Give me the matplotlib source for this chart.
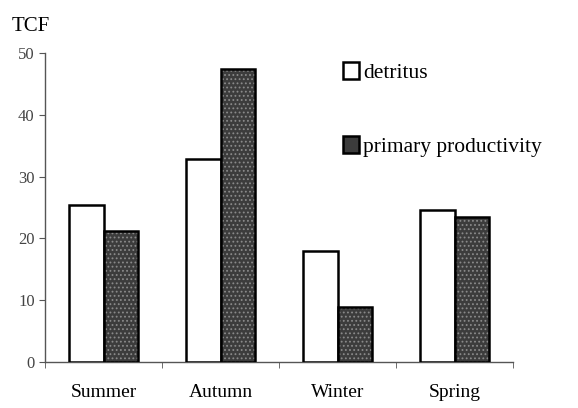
import numpy as np
import matplotlib.pyplot as plt
from matplotlib.patches import Rectangle

seasons = ['Summer', 'Autumn', 'Winter', 'Spring']
detritus = [25.4, 32.8, 18.0, 24.6]
primary = [21.2, 47.4, 8.9, 23.5]

plt.rcParams['font.family'] = 'Liberation Serif'
plt.rcParams['hatch.linewidth'] = 0.8

fig = plt.figure(figsize=(5.78, 4.08), dpi=100)
ax = fig.add_axes([0.078, 0.113, 0.81, 0.757])

x = np.arange(len(seasons))
w = 0.295

ax.bar(x - w / 2, detritus, w, color='white', edgecolor='black', linewidth=1.8, zorder=3)
# dotted fill for the dark bars, then an outline on top
ax.bar(x + w / 2, primary, w, color='#3c3c3c', edgecolor='#8a8a8a', hatch='....', linewidth=0, zorder=3)
ax.bar(x + w / 2, primary, w, color='none', edgecolor='black', linewidth=1.8, zorder=4)

ax.set_xlim(-0.5, 3.5)
ax.set_ylim(0, 50)
ax.set_yticks(range(0, 51, 10))
ax.set_xticks(x)
ax.set_xticklabels(seasons, fontsize=14)
ax.set_xticks(np.arange(-0.5, 3.6, 1), minor=True)
ax.tick_params(axis='x', which='major', length=0, pad=16)
ax.tick_params(axis='x', which='minor', length=4, direction='out', color='#555')
ax.tick_params(axis='y', length=4, direction='out', labelsize=12, colors='#555', labelcolor='#444')
for s in ['top', 'right']:
    ax.spines[s].set_visible(False)
for s in ['left', 'bottom']:
    ax.spines[s].set_color('#555')
    ax.spines[s].set_linewidth(1.0)

fig.text(0.02, 0.935, 'TCF', fontsize=15, ha='left', va='center')

# legend
handles = [Rectangle((0, 0), 1, 1, facecolor='white', edgecolor='black', linewidth=1.8),
           Rectangle((0, 0), 1, 1, facecolor='#3c3c3c', edgecolor='black', linewidth=1.8)]
leg = ax.legend(handles, ['detritus', 'primary productivity'], loc='upper left',
                bbox_to_anchor=(0.617, 0.998), frameon=False, fontsize=15.5,
                handlelength=0.75, handleheight=0.85, handletextpad=0.2, labelspacing=2.45,
                borderaxespad=0)

fig.savefig('out.png', dpi=100)
